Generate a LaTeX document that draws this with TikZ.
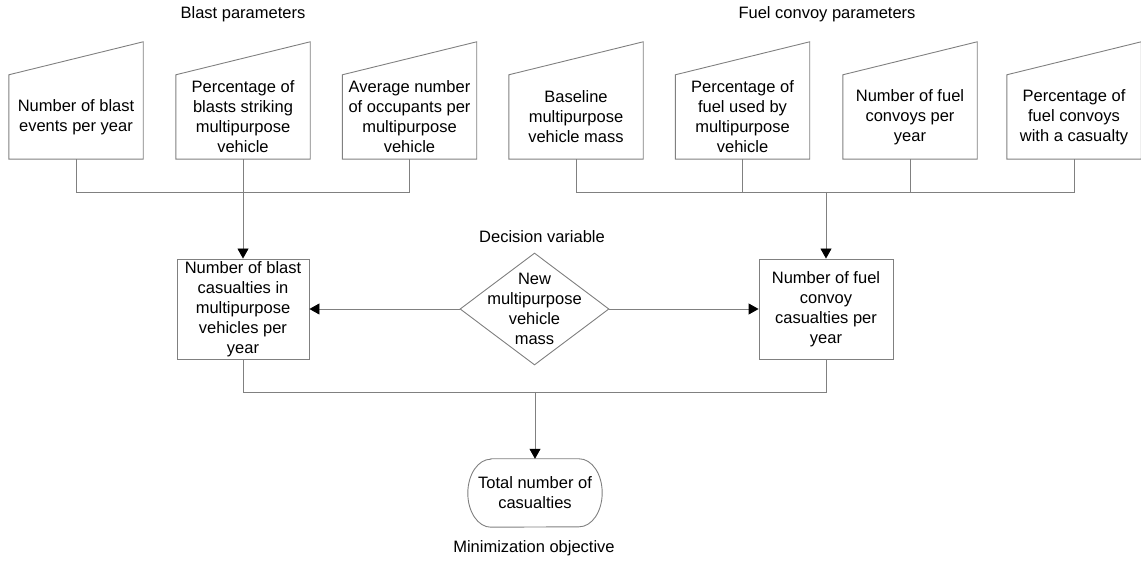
\documentclass[tikz,border=0pt]{standalone}
\usepackage{fontspec}
\setmainfont{Liberation Sans}
\usetikzlibrary{arrows.meta,shapes.geometric}
\definecolor{edge}{RGB}{128,128,128}
\begin{document}
\begin{tikzpicture}[x=1pt,y=1pt,
  every node/.style={font=\fontsize{16.5}{20}\selectfont, align=center, inner sep=0pt},
  line/.style={draw=edge, line width=0.9pt},
  arr/.style={line, -{Triangle[length=10pt,width=11pt,color=black]}},
  inp/.style={minimum width=134pt, minimum height=84pt},
  calcbox/.style={draw=edge, line width=0.9pt, minimum height=100pt},
]
\useasboundingbox (0,0) rectangle (1141,560);

% group titles
\node (tb) at (243,546) {Blast parameters};
\node (tf) at (827,546) {Fuel convoy parameters};

% manual input parameters
\node[inp] (b1) at (76,443)  {Number of blast\\events per year};
\node[inp] (b2) at (243,443) {Percentage of\\blasts striking\\multipurpose\\vehicle};
\node[inp] (b3) at (409.5,443) {Average number\\of occupants per\\multipurpose\\vehicle};
\node[inp] (f1) at (576,443) {Baseline\\multipurpose\\vehicle mass};
\node[inp] (f2) at (742.5,443) {Percentage of\\fuel used by\\multipurpose\\vehicle};
\node[inp] (f3) at (910,443) {Number of fuel\\convoys per\\year};
\node[inp] (f4) at (1074,443) {Percentage of\\fuel convoys\\with a casualty};
\foreach \n in {b1,b2,b3,f1,f2,f3,f4}
  \draw[line] (\n.south west) -- (\n.south east) -- ([yshift=33pt]\n.north east)
              -- (\n.north west) -- cycle;

% calculated quantities
\node[calcbox, minimum width=132pt] (nb) at (243,251)
  {Number of blast\\casualties in\\multipurpose\\vehicles per\\year};
\node[calcbox, minimum width=134pt] (nf) at (826,251)
  {Number of fuel\\convoy\\casualties per\\year};

% decision variable
\node (td) at (542,323) {Decision variable};
\node[diamond, draw=edge, line width=0.9pt, minimum width=149pt, minimum height=112pt] (dv) at (534.5,251) {};
\node (dvt) at (dv.center) {New\\multipurpose\\vehicle\\mass};

% objective
\node[minimum width=134pt, minimum height=68pt] (tot) at (535,67) {Total number of\\casualties};
\draw[line] ([xshift=23pt]tot.north west) -- ([xshift=-23pt]tot.north east)
  arc[start angle=90, end angle=-90, x radius=23pt, y radius=34pt]
  -- ([xshift=23pt]tot.south west)
  arc[start angle=270, end angle=90, x radius=23pt, y radius=34pt] -- cycle;
\node (tm) at (534,12) {Minimization objective};

% buses
\coordinate (busA) at (0,368);
\coordinate (busB) at (0,168);

\draw[line] (b1.south) -- (b1.south |- busA) -- (b3.south |- busA) -- (b3.south);
\draw[line] (b2.south) -- (b2.south |- busA);
\draw[arr] (b2.south |- busA) -- (nb.north);

\draw[line] (f1.south) -- (f1.south |- busA) -- (f4.south |- busA) -- (f4.south);
\draw[line] (f2.south) -- (f2.south |- busA);
\draw[line] (f3.south) -- (f3.south |- busA);
\draw[arr] (nf.north |- busA) -- (nf.north);

\draw[arr] (dv.west) -- (nb.east);
\draw[arr] (dv.east) -- (nf.west);

\draw[line] (nb.south) -- (nb.south |- busB) -- (nf.south |- busB) -- (nf.south);
\draw[arr] (tot.north |- busB) -- (tot.north);
\end{tikzpicture}
\end{document}
